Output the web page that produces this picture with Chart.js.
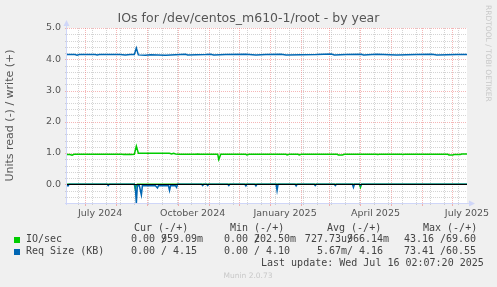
<!DOCTYPE html>
<html>
<head>
<meta charset="utf-8">
<title>IOs for /dev/centos_m610-1/root - by year</title>
<script src="https://cdn.jsdelivr.net/npm/chart.js@4.4.1/dist/chart.umd.min.js"></script>
<style>
  html, body { margin: 0; padding: 0; background: #f0f0f0; }
  #chart { display: block; }
</style>
</head>
<body>
<canvas id="chart" width="497" height="287"></canvas>
<script>
// x values are days counted from 1 July 2024
const xMin = -18;
const xMax = 380;
const monthStarts = [0, 31, 62, 92, 123, 153, 184, 215, 243, 274, 304, 335, 365];
const labelDays = [15, 107, 199, 289, 380];
const monthLabels = ['July 2024', 'October 2024', 'January 2025', 'April 2025', 'July 2025'];
const yTicks = [0, 1, 2, 3, 4, 5];

// IO/sec, write (+) and read (-) as [day, value]
const ioWrite = [
  [-18, 0.95], [-15, 0.95], [-13, 0.93], [-11, 0.96], [20, 0.96], [37, 0.96], [38, 0.95],
  [40, 0.96], [42, 0.95], [44, 0.96], [46, 0.95], [49, 0.96], [51, 1.22], [53, 0.99],
  [84, 0.99], [86, 0.97], [88, 0.99], [90, 0.97], [93, 0.96], [110, 0.96], [112, 0.97],
  [114, 0.96], [132, 0.96], [133, 0.79], [135, 0.96], [160, 0.96], [161, 0.94], [163, 0.96],
  [200, 0.96], [201, 0.94], [203, 0.96], [212, 0.96], [213, 0.94], [215, 0.96], [251, 0.96],
  [252, 0.94], [256, 0.94], [258, 0.96], [290, 0.96], [291, 0.95], [293, 0.96], [315, 0.96],
  [316, 0.95], [318, 0.96], [361, 0.96], [362, 0.94], [366, 0.94], [367, 0.95], [373, 0.95],
  [375, 0.97], [380, 0.97]
];
const ioRead = [
  [-18, 0], [49, 0], [50, -0.16], [51, -0.03], [52, 0], [273, 0], [274, -0.1], [275, 0], [380, 0]
];

// Req Size (KB), write (+) and read (-) as [day, value]
const reqWrite = [
  [-18, 4.15], [-10, 4.15], [-8, 4.13], [-6, 4.15], [10, 4.15], [12, 4.14], [14, 4.15],
  [35, 4.15], [40, 4.14], [45, 4.15], [49, 4.15], [51, 4.36], [53, 4.14], [60, 4.13],
  [65, 4.14], [80, 4.13], [95, 4.15], [100, 4.16], [102, 4.14], [120, 4.15], [125, 4.16],
  [128, 4.14], [140, 4.15], [160, 4.16], [170, 4.14], [180, 4.15], [195, 4.16], [200, 4.14],
  [230, 4.15], [245, 4.17], [248, 4.14], [260, 4.15], [275, 4.16], [277, 4.14], [290, 4.16],
  [310, 4.14], [330, 4.15], [345, 4.16], [350, 4.14], [370, 4.15], [380, 4.15]
];
const reqRead = [
  [-18, 0], [-17, -0.05], [-16, 0], [22, 0], [23, -0.04], [24, 0], [49, 0], [50, -0.1],
  [51, -0.6], [52, -0.05], [54, -0.05], [56, -0.34], [57, -0.05], [70, -0.05], [72, -0.12],
  [73, -0.05], [83, -0.05], [84, -0.2], [85, -0.05], [90, -0.05], [91, -0.1], [92, 0],
  [116, 0], [117, -0.04], [118, 0], [121, 0], [122, -0.04], [123, 0], [142, 0], [143, -0.04],
  [144, 0], [159, 0], [160, -0.05], [161, 0], [169, 0], [170, -0.05], [171, 0], [190, 0],
  [191, -0.2], [192, 0], [209, 0], [210, -0.05], [211, 0], [228, 0], [229, -0.04], [230, 0],
  [248, 0], [249, -0.04], [250, 0], [266, 0], [267, -0.1], [268, 0], [273, 0], [274, -0.04],
  [275, 0], [380, 0]
];

// legend table
const legendHeads = ['Cur (-/+)', 'Min (-/+)', 'Avg (-/+)', 'Max (-/+)'];
const ioLeft = ['0.00 ', '0.00 ', '727.73u', '43.16 '];
const ioRight = ['959.09m', '202.50m', '966.14m', ' 69.60'];
const reqLeft = ['0.00 ', '0.00 ', '5.67m', '73.41 '];
const reqRight = ['  4.15', '  4.10', '  4.16', ' 60.55'];

const GREEN = '#00cc00';
const BLUE = '#0066b3';

function toPoints(arr) {
  return arr.map(p => ({ x: p[0], y: p[1] }));
}

function hLine(ctx, x1, x2, y) {
  ctx.beginPath();
  ctx.moveTo(x1, y);
  ctx.lineTo(x2, y);
  ctx.stroke();
}

function vLine(ctx, x, y1, y2) {
  ctx.beginPath();
  ctx.moveTo(x, y1);
  ctx.lineTo(x, y2);
  ctx.stroke();
}

// RRDtool style canvas, grid, axes and text
const rrdPlugin = {
  id: 'rrdLook',
  beforeDraw(chart) {
    const ctx = chart.ctx, a = chart.chartArea;
    ctx.save();
    ctx.fillStyle = '#f0f0f0';
    ctx.fillRect(0, 0, chart.width, chart.height);
    ctx.fillStyle = '#ffffff';
    ctx.fillRect(a.left, a.top, a.right - a.left, a.bottom - a.top);
    ctx.restore();
  },
  beforeDatasetsDraw(chart) {
    const ctx = chart.ctx, a = chart.chartArea;
    const xs = chart.scales.x, ys = chart.scales.y;
    const left = Math.round(a.left), right = Math.round(a.right);
    const top = Math.round(a.top), bottom = Math.round(a.bottom);
    const minor = 'rgba(170,170,170,0.5)';
    const major = 'rgba(235,110,110,0.5)';
    ctx.save();
    ctx.lineWidth = 1;

    // horizontal grid every 0.2, red every 1.0
    for (let i = -2; i <= 25; i++) {
      const y = Math.round(ys.getPixelForValue(i / 5)) + 0.5;
      ctx.strokeStyle = i % 5 === 0 ? major : minor;
      ctx.setLineDash([1, 1]);
      hLine(ctx, left, right, y);
      ctx.setLineDash([]);
      hLine(ctx, left - 2, left, y);
    }

    // vertical grid: two-week minor lines, red at month starts
    for (let d = -7; d <= xMax; d += 14) {
      const x = Math.round(xs.getPixelForValue(d)) + 0.5;
      ctx.strokeStyle = minor;
      ctx.setLineDash([1, 1]);
      vLine(ctx, x, top, bottom);
      ctx.setLineDash([]);
      vLine(ctx, x, bottom, bottom + 2);
    }
    monthStarts.forEach(d => {
      const x = Math.round(xs.getPixelForValue(d)) + 0.5;
      ctx.strokeStyle = major;
      ctx.setLineDash([1, 1]);
      vLine(ctx, x, top, bottom);
      ctx.setLineDash([]);
      vLine(ctx, x, bottom, bottom + 3);
    });

    // axes with arrows
    ctx.strokeStyle = '#cfd6f8';
    ctx.fillStyle = '#cfd6f8';
    vLine(ctx, left - 0.5, bottom + 2, top - 4);
    hLine(ctx, left - 2, right + 3, bottom + 0.5);
    ctx.beginPath();
    ctx.moveTo(left - 3.5, top - 2);
    ctx.lineTo(left + 2.5, top - 2);
    ctx.lineTo(left - 0.5, top - 8);
    ctx.closePath();
    ctx.fill();
    ctx.beginPath();
    ctx.moveTo(right + 2, bottom - 2.5);
    ctx.lineTo(right + 2, bottom + 3.5);
    ctx.lineTo(right + 8, bottom + 0.5);
    ctx.closePath();
    ctx.fill();
    ctx.restore();
  },
  afterDatasetsDraw(chart) {
    const ctx = chart.ctx, a = chart.chartArea;
    const ys = chart.scales.y;
    ctx.save();
    ctx.strokeStyle = '#000000';
    ctx.lineWidth = 1;
    hLine(ctx, a.left, a.right, Math.round(ys.getPixelForValue(0)) + 0.5);
    ctx.restore();
  },
  afterDraw(chart) {
    const ctx = chart.ctx;
    ctx.save();

    // title, centred on the whole image
    ctx.font = '12.5px "DejaVu Sans"';
    ctx.fillStyle = '#555';
    ctx.textAlign = 'center';
    ctx.textBaseline = 'middle';
    ctx.fillText('IOs for /dev/centos_m610-1/root - by year', 248.5, 19);

    // vertical watermark on the right
    ctx.save();
    ctx.translate(488, 5);
    ctx.rotate(Math.PI / 2);
    ctx.font = '7.5px "DejaVu Sans"';
    ctx.fillStyle = '#c8c8c8';
    ctx.textAlign = 'left';
    ctx.textBaseline = 'middle';
    ctx.fillText('RRDTOOL / TOBI OETIKER', 0, 0);
    ctx.restore();

    // legend table
    ctx.font = '10px "DejaVu Sans Mono"';
    ctx.fillStyle = '#444';
    ctx.textAlign = 'left';
    ctx.textBaseline = 'middle';
    const headX = [134, 230, 327, 423];
    const slashX = [161, 254, 347, 440];
    legendHeads.forEach((h, i) => ctx.fillText(h, headX[i], 228.5));

    const rows = [
      { y: 239.5, color: GREEN, name: 'IO/sec', left: ioLeft, right: ioRight },
      { y: 251.5, color: BLUE, name: 'Req Size (KB)', left: reqLeft, right: reqRight }
    ];
    rows.forEach(r => {
      ctx.fillStyle = r.color;
      ctx.fillRect(14, Math.round(r.y) - 3, 6, 6);
      ctx.fillStyle = '#444';
      ctx.textAlign = 'left';
      ctx.fillText(r.name, 26, r.y);
      for (let i = 0; i < 4; i++) {
        ctx.textAlign = 'right';
        ctx.fillText(r.left[i], slashX[i], r.y);
        ctx.textAlign = 'left';
        ctx.fillText('/', slashX[i], r.y);
        ctx.fillText(r.right[i], slashX[i], r.y);
      }
    });

    ctx.textAlign = 'left';
    ctx.fillText('Last update: Wed Jul 16 02:07:20 2025', 261, 263.5);

    ctx.font = '7.5px "DejaVu Sans"';
    ctx.fillStyle = '#c8c8c8';
    ctx.textAlign = 'center';
    ctx.fillText('Munin 2.0.73', 248, 276);
    ctx.restore();
  }
};

const ctx = document.getElementById('chart');

new Chart(ctx, {
  type: 'line',
  data: {
    datasets: [
      { label: 'Req Size (KB) write', data: toPoints(reqWrite), borderColor: BLUE },
      { label: 'Req Size (KB) read', data: toPoints(reqRead), borderColor: BLUE },
      { label: 'IO/sec write', data: toPoints(ioWrite), borderColor: GREEN },
      { label: 'IO/sec read', data: toPoints(ioRead), borderColor: GREEN }
    ]
  },
  options: {
    responsive: false,
    animation: false,
    devicePixelRatio: 1,
    datasets: {
      line: { borderWidth: 1.5, pointRadius: 0, tension: 0, fill: false }
    },
    layout: { padding: { left: 0, right: 30, top: 28, bottom: 64 } },
    plugins: {
      legend: { display: false },
      tooltip: { enabled: false },
      title: { display: false }
    },
    scales: {
      x: {
        type: 'linear',
        min: xMin,
        max: xMax,
        afterBuildTicks: scale => { scale.ticks = labelDays.map(v => ({ value: v })); },
        afterFit: scale => { scale.height = 20; },
        grid: { display: false, drawTicks: false },
        border: { display: false },
        ticks: {
          autoSkip: false,
          maxRotation: 0,
          minRotation: 0,
          padding: 5,
          color: '#555',
          font: { family: 'DejaVu Sans', size: 9.5 },
          callback: (value, index) => monthLabels[index]
        }
      },
      y: {
        type: 'linear',
        min: -0.6,
        max: 5,
        afterBuildTicks: scale => { scale.ticks = yTicks.map(v => ({ value: v })); },
        afterFit: scale => { scale.width = 67; },
        grid: { display: false, drawTicks: false },
        border: { display: false },
        ticks: {
          padding: 6,
          color: '#555',
          font: { family: 'DejaVu Sans', size: 9.5 },
          callback: value => value.toFixed(1)
        },
        title: {
          display: true,
          text: 'Units read (-) / write (+)',
          color: '#555',
          font: { family: 'DejaVu Sans', size: 11 },
          padding: { top: 4, bottom: 0 }
        }
      }
    }
  },
  plugins: [rrdPlugin]
});
</script>
</body>
</html>
